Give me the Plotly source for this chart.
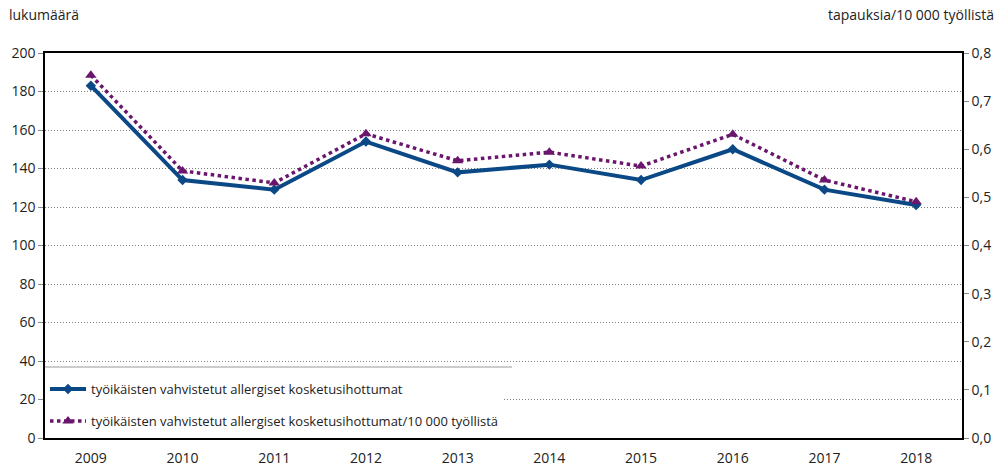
import plotly.graph_objects as go

years = ["2009", "2010", "2011", "2012", "2013", "2014", "2015", "2016", "2017", "2018"]
counts = [183, 134, 129, 154, 138, 142, 134, 150, 129, 121]
rates = [0.754, 0.555, 0.530, 0.632, 0.576, 0.594, 0.565, 0.631, 0.536, 0.491]

name_counts = "työikäisten vahvistetut allergiset kosketusihottumat"
name_rates = "työikäisten vahvistetut allergiset kosketusihottumat/10 000 työllistä"

blue = "#0b4886"
purple = "#6a166c"
font = "Open Sans"

fig = go.Figure()
fig.add_trace(go.Scatter(
    x=years, y=counts, name=name_counts, mode="lines+markers",
    line=dict(color=blue, width=4),
    marker=dict(symbol="diamond", size=8, color=blue),
    yaxis="y", legendgroup="a",
))
fig.add_trace(go.Scatter(
    x=years, y=rates, name=name_rates, mode="lines+markers",
    line=dict(color=purple, width=3.5, dash="dot"),
    marker=dict(symbol="triangle-up", size=10, color=purple),
    yaxis="y2", legendgroup="b",
))

fig.update_layout(
    width=1003, height=467, autosize=False,
    margin=dict(l=45, r=41, t=53, b=29, autoexpand=False),
    paper_bgcolor="white", plot_bgcolor="white",
    separators=", ",
    font=dict(family=font, size=14, color="#222222"),
    showlegend=True,
    legend=dict(
        x=0, y=0.005, xanchor="left", yanchor="bottom",
        bgcolor="white", borderwidth=0,
        font=dict(family=font, size=13, color="#222222"),
        tracegroupgap=12, itemwidth=36,
    ),
    xaxis=dict(
        type="category", range=[-0.5, 9.5], automargin=False,
        showline=True, linecolor="black", linewidth=1.5, mirror=True,
        ticks="", showgrid=False, tickfont=dict(size=14),
        ticklabelstandoff=6,
    ),
    yaxis=dict(
        range=[0, 200], dtick=20, automargin=False,
        showline=True, linecolor="black", linewidth=1.5,
        ticks="outside", ticklen=5, tickcolor="#888888",
        showgrid=True, gridcolor="#808080", griddash="1px,2px", gridwidth=1,
        zeroline=False, tickfont=dict(size=14),
    ),
    yaxis2=dict(
        range=[0, 0.8], dtick=0.1, tickformat=".1f", automargin=False,
        overlaying="y", side="right",
        showline=True, linecolor="black", linewidth=1.5,
        ticks="outside", ticklen=5, tickcolor="#888888",
        showgrid=False, zeroline=False, tickfont=dict(size=14),
    ),
    annotations=[
        dict(text="lukumäärä", xref="paper", yref="paper", x=-38/917, y=1 + 38/385,
             xanchor="left", yanchor="middle", showarrow=False, font=dict(size=14)),
        dict(text="tapauksia/10 000 työllistä", xref="paper", yref="paper", x=1 + 34/917, y=1 + 38/385,
             xanchor="right", yanchor="middle", showarrow=False, font=dict(size=14)),
    ],
    shapes=[
        dict(type="line", xref="paper", yref="paper", x0=0, x1=467/917, y0=71/385, y1=71/385,
             line=dict(color="#999999", width=1)),
    ],
)

fig.write_html(
    "out.html",
    config={"displayModeBar": False, "responsive": False},
    post_script="document.body.style.margin='0';document.body.style.overflow='hidden';",
)
